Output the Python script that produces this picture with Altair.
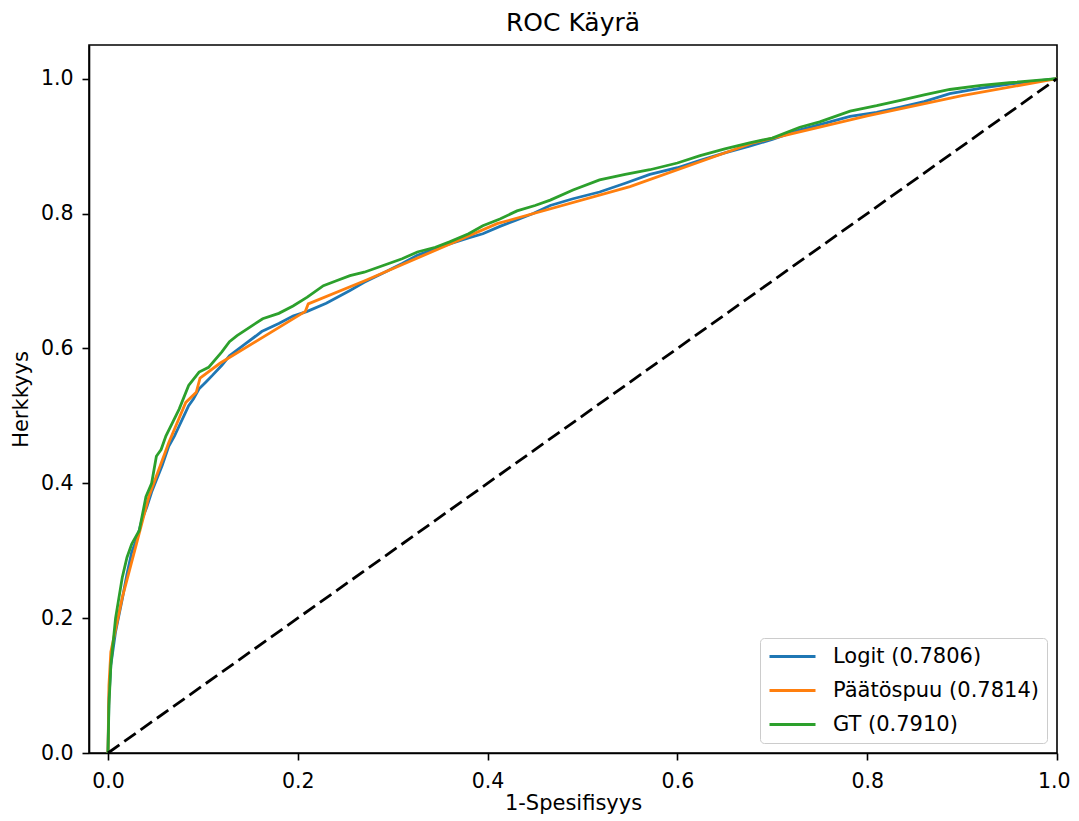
import altair as alt
import pandas as pd

# --- data ---
logit_fpr = [0, 0.001, 0.003, 0.008, 0.015, 0.02, 0.025, 0.031, 0.036, 0.041, 0.046, 0.051, 0.057,
             0.064, 0.07, 0.075, 0.08, 0.085, 0.09, 0.096, 0.103, 0.11, 0.12, 0.128, 0.145, 0.162,
             0.18, 0.195, 0.21, 0.23, 0.255, 0.27, 0.29, 0.31, 0.326, 0.345, 0.36, 0.38, 0.395, 0.413,
             0.43, 0.448, 0.466, 0.49, 0.518, 0.545, 0.571, 0.6, 0.624, 0.65, 0.676, 0.70, 0.729,
             0.75, 0.782, 0.81, 0.835, 0.86, 0.887, 0.92, 0.95, 1.0]
logit_tpr = [0, 0.08, 0.13, 0.18, 0.228, 0.265, 0.298, 0.32, 0.347, 0.365, 0.387, 0.405, 0.426,
             0.455, 0.47, 0.485, 0.50, 0.515, 0.525, 0.54, 0.55, 0.56, 0.575, 0.589, 0.607, 0.625,
             0.637, 0.648, 0.655, 0.667, 0.686, 0.698, 0.712, 0.726, 0.738, 0.748, 0.755, 0.764, 0.770, 0.781,
             0.790, 0.800, 0.812, 0.822, 0.832, 0.845, 0.858, 0.868, 0.879, 0.890, 0.900, 0.910, 0.924,
             0.932, 0.944, 0.950, 0.958, 0.966, 0.978, 0.986, 0.992, 1.0]

tree_fpr = [0, 0.001, 0.003, 0.015, 0.03, 0.043, 0.064, 0.082, 0.093, 0.097, 0.118, 0.208,
            0.211, 0.27, 0.41, 0.55, 0.68, 0.8, 0.9, 1.0]
tree_tpr = [0, 0.10, 0.15, 0.23, 0.31, 0.38, 0.46, 0.52, 0.535, 0.556, 0.578, 0.655,
            0.666, 0.70, 0.785, 0.84, 0.905, 0.945, 0.975, 1.0]

gt_fpr = [0, 0.001, 0.003, 0.008, 0.015, 0.02, 0.025, 0.033, 0.04, 0.046, 0.051, 0.056, 0.061,
          0.068, 0.075, 0.085, 0.096, 0.106, 0.12, 0.128, 0.136, 0.15,
          0.163, 0.18, 0.195, 0.21, 0.227, 0.24, 0.255, 0.27, 0.29, 0.31, 0.326, 0.345, 0.36,
          0.38, 0.395, 0.413, 0.431, 0.45, 0.466, 0.49, 0.518, 0.545, 0.571, 0.6, 0.624, 0.65,
          0.676, 0.70, 0.729, 0.75, 0.782, 0.81, 0.835, 0.86, 0.887, 0.92, 0.95, 1.0]
gt_tpr = [0, 0.07, 0.13, 0.20, 0.26, 0.29, 0.31, 0.33, 0.38, 0.40, 0.44, 0.45, 0.47,
          0.49, 0.51, 0.545, 0.565, 0.572, 0.595, 0.610, 0.619, 0.632,
          0.644, 0.652, 0.663, 0.676, 0.693, 0.700, 0.708, 0.713, 0.723, 0.733, 0.743, 0.750, 0.758,
          0.770, 0.782, 0.792, 0.804, 0.812, 0.820, 0.835, 0.850, 0.858, 0.865, 0.875, 0.886, 0.896,
          0.905, 0.912, 0.928, 0.936, 0.952, 0.960, 0.968, 0.976, 0.984, 0.990, 0.994, 1.0]

series_names = ["Logit (0.7806)", "Päätöspuu (0.7814)", "GT (0.7910)"]
series_colors = ["#1f77b4", "#ff7f0e", "#2ca02c"]
diag_x = [0, 1]
diag_y = [0, 1]
x_ticks = [0.0, 0.2, 0.4, 0.6, 0.8, 1.0]
y_ticks = [0.0, 0.2, 0.4, 0.6, 0.8, 1.0]

rows = []
for name, xs, ys in zip(series_names, [logit_fpr, tree_fpr, gt_fpr], [logit_tpr, tree_tpr, gt_tpr]):
    for i, (a, b) in enumerate(zip(xs, ys)):
        rows.append({"fpr": a, "tpr": b, "model": name, "i": i})
df = pd.DataFrame(rows)
diag = pd.DataFrame({"fpr": diag_x, "tpr": diag_y})

FONT = "DejaVu Sans"

xscale = alt.Scale(domain=[-0.02, 1.0], nice=False, zero=False)
yscale = alt.Scale(domain=[0, 1.05], nice=False)

xaxis = alt.Axis(title="1-Spesifisyys", values=x_ticks, format=".1f", grid=False,
                 tickSize=7, tickWidth=1.6, tickColor="black", domainColor="black",
                 domainWidth=1.6, labelFontSize=20.5, titleFontSize=21, labelPadding=11,
                 titlePadding=1, labelColor="black", titleColor="black",
                 titleFontWeight="normal", labelFlush=1, labelFlushOffset=13)
yaxis = alt.Axis(title="Herkkyys", values=y_ticks, format=".1f", grid=False,
                 tickSize=7, tickWidth=1.6, tickColor="black", domainColor="black",
                 domainWidth=1.6, labelFontSize=20.5, titleFontSize=21, labelPadding=9,
                 titlePadding=9, labelColor="black", titleColor="black",
                 titleFontWeight="normal", labelFlush=False)

lines = alt.Chart(df).mark_line(strokeWidth=2.8).encode(
    x=alt.X("fpr:Q", scale=xscale, axis=xaxis),
    y=alt.Y("tpr:Q", scale=yscale, axis=yaxis),
    color=alt.Color("model:N",
                    scale=alt.Scale(domain=series_names, range=series_colors),
                    sort=series_names,
                    legend=alt.Legend(title=None, orient="bottom-right", offset=10,
                                      labelFontSize=21, labelColor="black",
                                      symbolType="stroke", symbolSize=2116,
                                      symbolStrokeWidth=2.8, labelOffset=16,
                                      clipHeight=21, rowPadding=12, padding=8,
                                      strokeColor="#cccccc", fillColor="rgba(255,255,255,0.8)",
                                      cornerRadius=4, labelLimit=400)),
    order="i:Q",
)

diag_line = alt.Chart(diag).mark_line(color="black", strokeWidth=2.8, strokeDash=[14, 6]).encode(
    x=alt.X("fpr:Q", scale=xscale),
    y=alt.Y("tpr:Q", scale=yscale),
)

chart = alt.layer(lines, diag_line).properties(
    width=968, height=708,
    title=alt.Title("ROC Käyrä", fontSize=25, fontWeight="normal", color="black", offset=9),
    padding={"left": 2, "top": 3, "right": 0, "bottom": 0},
).configure(font=FONT).configure_view(stroke="black", strokeWidth=1.6)

chart.save("out.html", embed_options={"renderer": "svg", "actions": False})
